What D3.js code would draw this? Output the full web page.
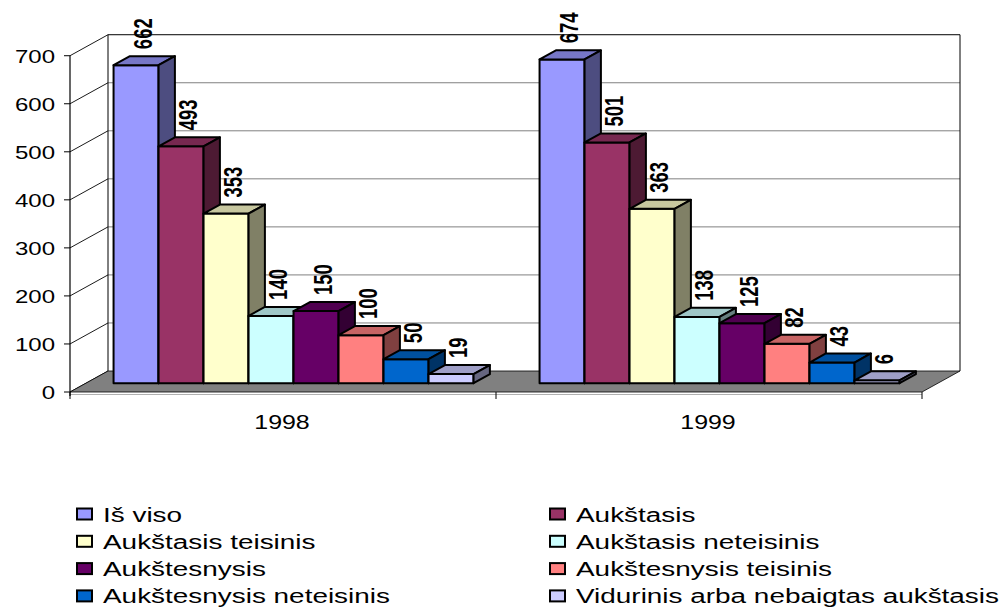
<!DOCTYPE html>
<html><head><meta charset="utf-8">
<script src="https://cdn.jsdelivr.net/npm/d3@7"></script>
<style>html,body{margin:0;padding:0;background:#fff;}svg{display:block;}</style>
</head><body>
<svg id="chart" width="1004" height="608"></svg>
<script>
const years = ["1998", "1999"];
const series = ["Iš viso", "Aukštasis", "Aukštasis teisinis", "Aukštasis neteisinis",
  "Aukštesnysis", "Aukštesnysis teisinis", "Aukštesnysis neteisinis", "Vidurinis arba nebaigtas aukštasis"];
const values1998 = [662, 493, 353, 140, 150, 100, 50, 19];
const values1999 = [674, 501, 363, 138, 125, 82, 43, 6];
const yTicks = [0, 100, 200, 300, 400, 500, 600, 700];
const colors = ["#9999FF", "#993366", "#FFFFCC", "#CCFFFF", "#660066", "#FF8080", "#0066CC", "#CCCCFF"];

const valuesByYear = {"1998": values1998, "1999": values1999};

const svg = d3.select("#chart");
const FONT = "'Liberation Sans', Arial, sans-serif";

// plot geometry (front plane + depth vector)
const left = 70, right = 922, base = 392;
const DX = 38, DY = -21;
const tF = 0.42, tB = 0.85;
const fdx = DX * tF, fdy = DY * tF;
const bdx = DX * (tB - tF), bdy = DY * (tB - tF);

const y = d3.scaleLinear().domain([0, 700]).range([base, base - 700 * 0.4804]);
const x0 = d3.scaleBand().domain(years).range([left, right]);
const xs = d3.scaleBand().domain(series).range([27.6, 387.6]);

const g = svg.append("g");

// back wall
const yTop = y(700);
g.append("polygon")
  .attr("points", [[left + DX, yTop + DY], [right + DX, yTop + DY], [right + DX, base + DY], [left + DX, base + DY]].join(" "))
  .attr("fill", "#fff");
yTicks.slice(1, -1).forEach(v => {
  g.append("line").attr("x1", left + DX).attr("x2", right + DX)
    .attr("y1", y(v) + DY).attr("y2", y(v) + DY)
    .attr("stroke", "#808080").attr("stroke-width", 1);
});
yTicks.forEach(v => {
  g.append("line").attr("x1", left).attr("y1", y(v)).attr("x2", left + DX).attr("y2", y(v) + DY)
    .attr("stroke", "#000").attr("stroke-width", 0.9);
});
g.append("path")
  .attr("d", `M${left + DX},${base + DY} V${yTop + DY} H${right + DX} V${base + DY}`)
  .attr("fill", "none").attr("stroke", "#000").attr("stroke-width", 1);

// floor
g.append("polygon")
  .attr("points", [[left, base], [right, base], [right + DX, base + DY], [left + DX, base + DY]].join(" "))
  .attr("fill", "#808080").attr("stroke", "#000").attr("stroke-width", 0.8);
g.append("line").attr("x1", left).attr("x2", right).attr("y1", base + 2.5).attr("y2", base + 2.5)
  .attr("stroke", "#b0b0b0").attr("stroke-width", 1);

// y axis
g.append("line").attr("x1", left).attr("x2", left).attr("y1", yTop).attr("y2", base + 4)
  .attr("stroke", "#000").attr("stroke-width", 1.2);
yTicks.forEach(v => {
  g.append("line").attr("x1", left - 6).attr("x2", left).attr("y1", y(v)).attr("y2", y(v))
    .attr("stroke", "#000").attr("stroke-width", 1);
  g.append("text").attr("transform", `translate(55,${y(v) + 7}) scale(1.25,1)`)
    .attr("text-anchor", "end").attr("font-family", FONT).attr("font-size", 19.2)
    .attr("fill", "#000").text(v);
});

// x axis ticks and labels
[left, ...years.map(d => x0(d) + x0.bandwidth())].forEach(xv => {
  g.append("line").attr("x1", xv).attr("x2", xv).attr("y1", base).attr("y2", base + 7)
    .attr("stroke", "#000").attr("stroke-width", 1);
});
years.forEach(yr => {
  g.append("text").attr("transform", `translate(${x0(yr) + x0.bandwidth() / 2 - 1},429) scale(1.28,1)`)
    .attr("text-anchor", "middle").attr("font-family", FONT).attr("font-size", 19.5)
    .attr("fill", "#000").text(yr);
});

// bars
const shade = (c, k) => d3.interpolateRgb(c, "#000")(k);
years.forEach(yr => {
  const vals = valuesByYear[yr];
  series.forEach((s, i) => {
    const v = vals[i];
    const xL = x0(yr) + xs(s) + fdx;
    const w = xs.bandwidth();
    const yT = y(v) + fdy, yB = y(0) + fdy;
    const bar = g.append("g");
    bar.append("rect").attr("x", xL).attr("y", yT).attr("width", w).attr("height", yB - yT)
      .attr("fill", colors[i]).attr("stroke", "#000").attr("stroke-width", 2).attr("stroke-linejoin", "round");
    bar.append("polygon")
      .attr("points", [[xL, yT], [xL + w, yT], [xL + w + bdx, yT + bdy], [xL + bdx, yT + bdy]].join(" "))
      .attr("fill", shade(colors[i], 0.22)).attr("stroke", "#000").attr("stroke-width", 2).attr("stroke-linejoin", "round");
    bar.append("polygon")
      .attr("points", [[xL + w, yT], [xL + w + bdx, yT + bdy], [xL + w + bdx, yB + bdy], [xL + w, yB]].join(" "))
      .attr("fill", shade(colors[i], 0.5)).attr("stroke", "#000").attr("stroke-width", 2).attr("stroke-linejoin", "round");
    const lx = xL + w / 2 + bdx / 2 - 1;
    const ly = yT + bdy - 7;
    g.append("text").attr("transform", `translate(${lx},${ly}) scale(1.4,1) rotate(-90)`)
      .attr("text-anchor", "start").attr("dominant-baseline", "central")
      .attr("font-family", FONT).attr("font-weight", "bold").attr("font-size", 18.5)
      .attr("fill", "#000").text(v);
  });
});

// legend
const legend = svg.append("g");
series.forEach((s, i) => {
  const col = i % 2, row = Math.floor(i / 2);
  const lxp = col === 0 ? 76 : 549;
  const lyp = 514 + row * 27.3;
  legend.append("rect").attr("x", lxp + 1).attr("y", lyp - 5.5).attr("width", 15).attr("height", 11)
    .attr("fill", colors[i]).attr("stroke", "#000").attr("stroke-width", 2);
  legend.append("text").attr("transform", `translate(${lxp + 27},${lyp + 7.5}) scale(1.33,1)`)
    .attr("font-family", FONT).attr("font-size", 21).attr("fill", "#000").text(s);
});
</script>
</body></html>
